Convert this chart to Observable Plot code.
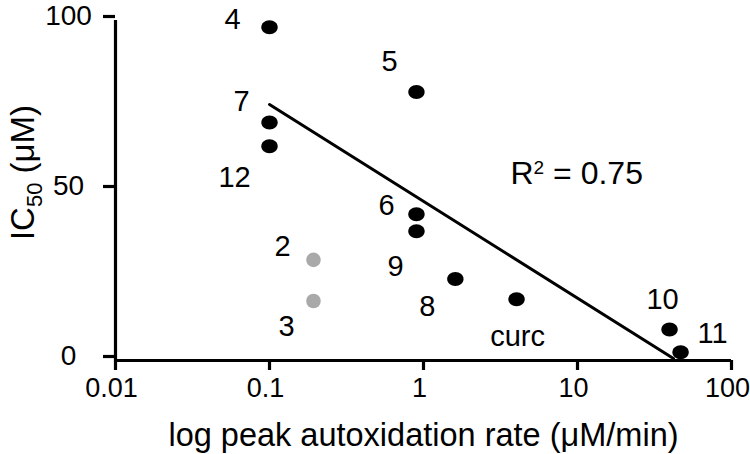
<!DOCTYPE html>
<html><head><meta charset="utf-8">
<script src="https://cdn.jsdelivr.net/npm/d3@7"></script>
<script src="https://cdn.jsdelivr.net/npm/@observablehq/plot@0.6"></script>
<style>body{margin:0;background:#fff;}</style>
</head><body><div id="chart"></div>
<script>
// ---- data ----
const compounds = ["4", "7", "12", "5", "6", "9", "8", "curc", "10", "11", "2", "3"];
const rate      = [0.1, 0.1, 0.1, 0.9, 0.9, 0.9, 1.61, 4.02, 39.6, 46.7, 0.193, 0.193]; // µM/min
const ic50      = [98, 70, 63, 79, 43, 38, 24, 18, 9.1, 2.4, 29.6, 17.5];               // µM
const inFit     = [true, true, true, true, true, true, true, true, true, true, false, false];
const fitRate   = [0.1, 42];
const fitIC50   = [75.3, 0.6];
const rSquared  = "0.75";
const xTicks    = [0.01, 0.1, 1, 10, 100];
const yTicks    = [0, 50, 100];
const xTitle    = "log peak autoxidation rate (μM/min)";
const yTitle    = "IC50 (μM)";

// label placement (pixel nudges relative to each point)
const labelNudge = {
  "4": [-37, -8], "7": [-28, -21], "12": [-35, 31], "5": [-27, -30], "6": [-30, -9],
  "9": [-21, 35], "8": [-28, 28], "curc": [1, 37], "10": [-7, -30], "11": [32, -19],
  "2": [-31, -13], "3": [-27, 26]
};

const points = compounds.map((c, i) => ({name: c, rate: rate[i], ic50: ic50[i], fit: inFit[i]}));
const fitLine = fitRate.map((r, i) => ({rate: r, ic50: fitIC50[i]}));

// slightly wide ellipse symbol
const ellipse = {
  draw(context, size) {
    const r = Math.sqrt(size / Math.PI);
    const rx = r * 1.17, ry = r, k = 0.5523;
    context.moveTo(rx, 0);
    context.bezierCurveTo(rx, k * ry, k * rx, ry, 0, ry);
    context.bezierCurveTo(-k * rx, ry, -rx, k * ry, -rx, 0);
    context.bezierCurveTo(-rx, -k * ry, -k * rx, -ry, 0, -ry);
    context.bezierCurveTo(k * rx, -ry, rx, -k * ry, rx, 0);
    context.closePath();
  }
};

const labelMarks = points.map(p => Plot.text([p], {
  x: "rate", y: "ic50", text: "name",
  dx: labelNudge[p.name][0], dy: labelNudge[p.name][1],
  fontSize: 29, fill: "black"
}));

const svg = Plot.plot({
  width: 750, height: 454,
  marginLeft: 115, marginRight: 19, marginTop: 20, marginBottom: 94,
  style: {fontFamily: "'Liberation Sans', Arial, Helvetica, sans-serif", fontSize: "28px", color: "black", background: "white"},
  x: {type: "log", domain: [0.01, 100]},
  y: {domain: [0, 100]},
  marks: [
    // x tick marks (no labels)
    Plot.axisX({ticks: xTicks, tickSize: 10, tickFormat: () => "", strokeWidth: 3.2, label: null}),
    // x tick labels
    Plot.axisX({ticks: xTicks, tickSize: 0, tickPadding: 17, dx: -4, fontSize: 27, tickFormat: d => String(d), label: null}),
    Plot.axisY({ticks: yTicks, tickSize: 12, tickPadding: 35, textAnchor: "middle", dy: -4, tickFormat: d => String(d), strokeWidth: 3.2, label: null}),
    Plot.ruleY([0], {strokeWidth: 3.2}),
    Plot.ruleX([0.01], {strokeWidth: 3.2}),
    Plot.line(fitLine, {x: "rate", y: "ic50", stroke: "black", strokeWidth: 3}),
    Plot.dot(points.filter(d => d.fit), {x: "rate", y: "ic50", r: 7, symbol: ellipse, fill: "black"}),
    Plot.dot(points.filter(d => !d.fit), {x: "rate", y: "ic50", r: 7.3, fill: "#a9a9a9"}),
    ...labelMarks,
    Plot.text([rSquared], {frameAnchor: "top-left", dx: 395, dy: 163, text: d => "R2 = " + d, lineAnchor: "bottom", textAnchor: "start", fontSize: 32}),
    Plot.text([xTitle], {frameAnchor: "bottom", dy: 85, text: d => d, lineAnchor: "bottom", textAnchor: "middle", fontSize: 32.5}),
    Plot.text([yTitle], {frameAnchor: "left", dx: -82, dy: -18, rotate: -90, text: d => d, lineAnchor: "bottom", textAnchor: "middle", fontSize: 33})
  ]
});

// sub/superscripts
d3.select(svg).selectAll("text").each(function () {
  const t = d3.select(this);
  const s = this.textContent;
  if (s === yTitle) {
    t.text(null);
    t.append("tspan").text("IC");
    t.append("tspan").attr("font-size", 22).attr("dy", 8).text("50");
    t.append("tspan").attr("dy", -8).text(" (μM)");
  } else if (s === "R2 = " + rSquared) {
    t.text(null);
    t.append("tspan").text("R");
    t.append("tspan").attr("font-size", 19).attr("dy", -10).text("2");
    t.append("tspan").attr("dy", 10).text(" = " + rSquared);
  }
});

document.getElementById("chart").appendChild(svg);
</script>
</body></html>
